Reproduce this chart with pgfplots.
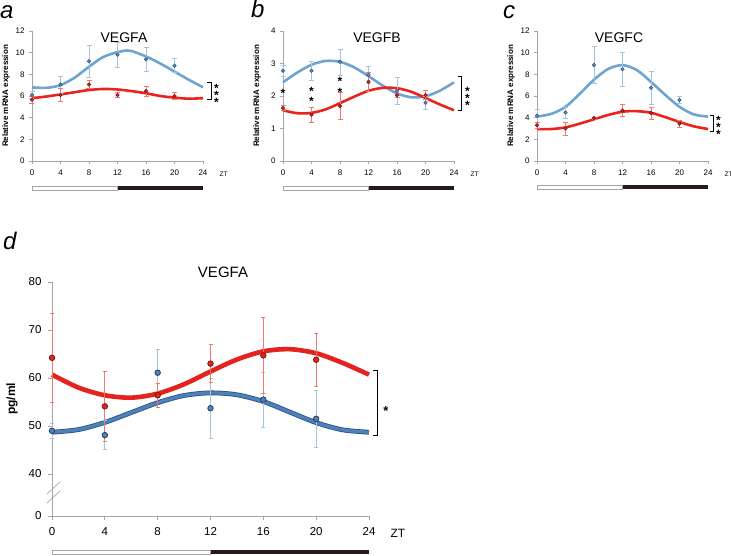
\documentclass[border=0pt]{standalone}
\usepackage{fontspec}
\setmainfont{Liberation Sans}
\usepackage{pgfplots}
\pgfplotsset{compat=1.18}

\definecolor{cblue}{RGB}{110,164,208}
\definecolor{cred}{RGB}{234,36,28}
\definecolor{eblue}{RGB}{165,196,224}
\definecolor{ered}{RGB}{238,122,110}
\definecolor{mblue}{RGB}{45,75,120}
\definecolor{mred}{RGB}{110,20,20}
\definecolor{dblue}{RGB}{78,128,186}
\definecolor{dedge}{RGB}{44,82,132}
\definecolor{dred}{RGB}{228,34,30}
\definecolor{night}{RGB}{38,26,26}
\definecolor{axgray}{RGB}{165,165,165}

\pgfplotsset{
  panel/.style={
    scale only axis, clip=false,
    xmin=0, xmax=24, xtick={0,4,...,24},
    axis lines=left, axis line style={-, axgray, line width=0.7pt},
    tick style={axgray, line width=0.7pt}, tick align=outside,
    /pgf/number format/assume math mode=true,
  },
  small/.style={panel,
    width=171pt, height=130pt, ymin=0,
    major tick length=3pt,
    ticklabel style={font=\fontsize{8}{9}\selectfont},
    yticklabel style={xshift=-1pt},
    xticklabel style={yshift=-2pt},
    ylabel={Relative mRNA expression},
    every axis y label/.style={at={(axis description cs:-0.152,0.5)}, rotate=90, anchor=center,
      font=\fontsize{8}{9}\selectfont\bfseries},
    xlabel={ZT},
    every axis x label/.style={at={(axis description cs:1,0)}, anchor=base west,
      xshift=13pt, yshift=-16pt, font=\fontsize{6.5}{7}\selectfont},
  },
  fitb/.style={cblue, line width=2.6pt, smooth},
  fitr/.style={cred, line width=2.6pt, smooth},
  ptb/.style={only marks, mark=*, mark size=1.7pt,
    mark options={fill=cblue, draw=mblue, line width=0.6pt},
    error bars/y dir=both, error bars/y explicit,
    error bars/error bar style={eblue, line width=0.7pt},
    error bars/error mark options={rotate=90, mark size=2.5pt, eblue, line width=0.7pt}},
  ptr/.style={only marks, mark=*, mark size=1.7pt,
    mark options={fill=cred, draw=mred, line width=0.6pt},
    error bars/y dir=both, error bars/y explicit,
    error bars/error bar style={ered, line width=0.7pt},
    error bars/error mark options={rotate=90, mark size=2.5pt, ered, line width=0.7pt}},
}

% stacked significance stars, one text per stack
\newcommand{\tight}{\lineskiplimit=-20pt\relax}
\tikzset{stars/.style={font=\fontsize{12}{6}\selectfont\bfseries,
  align=center, inner sep=0pt, anchor=center}}

\newcommand{\lightdark}[2]{%
  \draw[axgray, fill=white, line width=0.6pt] ([yshift=-#1]rel axis cs:0,0) rectangle ([yshift=-#2]rel axis cs:0.5,0);
  \fill[night] ([yshift=-#1]rel axis cs:0.5,0) rectangle ([yshift=-#2]rel axis cs:1,0);}

\begin{document}
\begin{tikzpicture}
\useasboundingbox (0,0) rectangle (731pt,556pt);

% ---------- a: VEGFA mRNA
\begin{axis}[small, at={(32pt,395pt)}, anchor=south west,
  ymax=12, ytick={0,2,...,12}]
\addplot[fitb] coordinates {(0,6.8) (2,6.75) (4,7.0) (6,7.7) (8,8.7) (10,9.6) (12,10.05) (13.3,10.2) (14,10.15) (16,9.65) (18,9.0) (20,8.25) (22,7.5) (24,6.8)};
\addplot[fitr] coordinates {(0,5.8) (2,5.95) (4,6.15) (6,6.35) (8,6.55) (10,6.65) (12,6.6) (14,6.45) (16,6.25) (18,6.0) (20,5.85) (22,5.75) (24,5.8)};
\addplot[ptb] coordinates {(0,6.1) +- (0,0.3) (4,7.05) +- (0,0.8) (8,9.2) +- (0,1.45) (12,9.8) +- (0,1.15) (16,9.4) +- (0,1.1) (20,8.8) +- (0,0.65)};
\addplot[ptr] coordinates {(0,5.65) +- (0,0.35) (4,6.1) +- (0,0.6) (8,7.05) +- (0,0.35) (12,6.1) +- (0,0.2) (16,6.45) +- (0,0.45) (20,6.0) +- (0,0.35)};
\draw[black, line width=0.6pt] ([xshift=4pt]axis cs:24,7.24) -- ([xshift=8pt]axis cs:24,7.24) -- ([xshift=8pt]axis cs:24,5.74) -- ([xshift=4pt]axis cs:24,5.74);
\node[stars] at ([xshift=13.5pt,yshift=-4pt]axis cs:24,6.41) {\tight *\\[-2.2pt]*\\[-2.2pt]*};
\lightdark{25.5pt}{29pt}
\end{axis}

% ---------- b: VEGFB mRNA
\begin{axis}[small, at={(283pt,395pt)}, anchor=south west,
  ymax=4, ytick={0,1,...,4}]
\addplot[fitb] coordinates {(0,2.42) (2,2.72) (4,2.96) (6,3.08) (8,3.05) (10,2.88) (12,2.61) (14,2.32) (16,2.08) (18,1.96) (20,1.99) (22,2.16) (24,2.42)};
\addplot[fitr] coordinates {(0,1.56) (2,1.47) (4,1.48) (6,1.59) (8,1.78) (10,1.98) (12,2.16) (14,2.25) (16,2.24) (18,2.13) (20,1.94) (22,1.74) (24,1.56)};
\addplot[ptb] coordinates {(0,2.78) +- (0,0.17) (4,2.78) +- (0,0.3) (8,3.05) +- (0,0.4) (12,2.65) +- (0,0.25) (16,2.15) +- (0,0.42) (20,1.79) +- (0,0.21)};
\addplot[ptr] coordinates {(0,1.63) +- (0,0.08) (4,1.42) +- (0,0.23) (8,1.69) +- (0,0.41) (12,2.44) +- (0,0.3) (16,2.02) +- (0,0.05) (20,2.03) +- (0,0.14)};
\node[stars] at ([yshift=-4pt]axis cs:0,2.19) {*};
\node[stars] at ([yshift=-4pt]axis cs:4,2.12) {\tight *\\[1pt]*};
\node[stars] at ([yshift=-4pt]axis cs:8,2.40) {\tight *\\[1pt]*};
\draw[black, line width=0.6pt] ([xshift=4pt]axis cs:24,2.6) -- ([xshift=7pt]axis cs:24,2.6) -- ([xshift=7pt]axis cs:24,1.55) -- ([xshift=4pt]axis cs:24,1.55);
\node[stars] at ([xshift=13.5pt,yshift=-4pt]axis cs:24,2.05) {\tight *\\[-2.2pt]*\\[-2.2pt]*};
\lightdark{25.5pt}{29pt}
\end{axis}

% ---------- c: VEGFC mRNA
\begin{axis}[small, at={(537pt,395pt)}, anchor=south west,
  ymax=12, ytick={0,2,...,12}]
\addplot[fitb] coordinates {(0,4.1) (2,4.35) (4,5.0) (6,6.2) (8,7.5) (10,8.5) (12,8.85) (14,8.4) (16,7.3) (18,6.1) (20,5.0) (22,4.3) (24,4.1)};
\addplot[fitr] coordinates {(0,2.95) (2,2.95) (4,3.1) (6,3.45) (8,3.85) (10,4.25) (12,4.55) (14,4.6) (16,4.45) (18,4.05) (20,3.6) (22,3.2) (24,2.95)};
\addplot[ptb] coordinates {(0,4.17) +- (0,0.6) (4,4.48) +- (0,0.5) (8,8.87) +- (0,1.7) (12,8.47) +- (0,1.6) (16,6.75) +- (0,1.5) (20,5.64) +- (0,0.3)};
\addplot[ptr] coordinates {(0,3.31) +- (0,0.3) (4,3.0) +- (0,0.6) (8,3.96) +- (0,0.1) (12,4.66) +- (0,0.55) (16,4.42) +- (0,0.55) (20,3.44) +- (0,0.3)};
\draw[black, line width=0.6pt] ([xshift=2pt]axis cs:24,4.26) -- ([xshift=5pt]axis cs:24,4.26) -- ([xshift=5pt]axis cs:24,2.73) -- ([xshift=2pt]axis cs:24,2.73);
\node[stars] at ([xshift=10.5pt,yshift=-4pt]axis cs:24,3.44) {\tight *\\[-2.2pt]*\\[-2.2pt]*};
\lightdark{24.5pt}{28pt}
\end{axis}

% ---------- d: VEGFA protein
\begin{axis}[panel, at={(52pt,40pt)}, anchor=south west,
  width=317pt, height=234pt, ymin=31.25, ymax=80,
  ytick={31.25,40,50,60,70,80}, yticklabels={0,40,50,60,70,80},
  major tick length=4pt,
  ticklabel style={font=\fontsize{11.5}{13}\selectfont},
  yticklabel style={xshift=-3pt}, xticklabel style={yshift=-4pt},
  ylabel={pg/ml},
  every axis y label/.style={at={(axis description cs:-0.126,0.5)}, rotate=90, anchor=center,
    font=\fontsize{12}{13}\selectfont\bfseries},
  xlabel={ZT},
  every axis x label/.style={at={(axis description cs:1,0)}, anchor=base west,
    xshift=18pt, yshift=-22pt, font=\fontsize{12}{14}\selectfont}]
\addplot[smooth, dedge, line width=4.8pt] coordinates {(0,48.7) (2,49.25) (4,50.75) (6,52.8) (8,54.85) (10,56.35) (12,56.9) (14,56.5) (16,55.1) (18,52.9) (20,50.7) (22,49.2) (24,48.7)};
\addplot[smooth, dblue, line width=3.2pt] coordinates {(0,48.7) (2,49.25) (4,50.75) (6,52.8) (8,54.85) (10,56.35) (12,56.9) (14,56.5) (16,55.1) (18,52.9) (20,50.7) (22,49.2) (24,48.7)};
\addplot[smooth, dred, line width=4.6pt] coordinates {(0,60.7) (2,58.0) (4,56.4) (6,55.9) (8,56.75) (10,58.7) (12,61.35) (14,63.85) (16,65.55) (18,66.0) (20,65.15) (22,63.15) (24,60.7)};
\addplot[ptb, mark size=2.8pt, mark options={fill=dblue, draw=dedge!70!black, line width=0.7pt},
  error bars/error mark options={rotate=90, mark size=2pt, eblue, line width=0.8pt}]
  coordinates {(0,49.0) +- (0,1.6) (4,48.1) +- (0,3.0) (8,61.1) +- (0,4.9) (12,53.7) +- (0,6.2) (16,55.5) +- (0,5.7) (20,51.5) +- (0,6.0)};
\addplot[ptr, mark size=2.8pt, mark options={fill=dred, draw=mred, line width=0.7pt},
  error bars/error mark options={rotate=90, mark size=2pt, ered, line width=0.8pt}]
  coordinates {(0,64.2) +- (0,9.3) (4,54.1) +- (0,7.3) (8,56.4) +- (0,2.5) (12,63.0) +- (0,4.0) (16,64.7) +- (0,7.9) (20,63.8) +- (0,5.5)};
% axis break
\draw[axgray, line width=0.7pt] ([xshift=-5pt,yshift=-6pt]axis cs:0,37.1) -- ([xshift=8pt,yshift=6pt]axis cs:0,37.1);
\draw[axgray, line width=0.7pt] ([xshift=-5pt,yshift=-6pt]axis cs:0,35.2) -- ([xshift=8pt,yshift=6pt]axis cs:0,35.2);
\draw[black, line width=0.7pt] ([xshift=4pt]axis cs:24,61.6) -- ([xshift=8pt]axis cs:24,61.6) -- ([xshift=8pt]axis cs:24,48.1) -- ([xshift=4pt]axis cs:24,48.1);
\node[stars, font=\fontsize{13}{13}\selectfont\bfseries] at ([xshift=17pt,yshift=-5pt]axis cs:24,54.2) {*};
\lightdark{34pt}{38pt}
\end{axis}

% panel letters and titles
\node[anchor=base west, font=\fontsize{24}{24}\selectfont\itshape, inner sep=0pt] at (0pt,537pt) {a};
\node[anchor=base west, font=\fontsize{24}{24}\selectfont\itshape, inner sep=0pt] at (251pt,538pt) {b};
\node[anchor=base west, font=\fontsize{24}{24}\selectfont\itshape, inner sep=0pt] at (503pt,537pt) {c};
\node[anchor=base west, font=\fontsize{24}{24}\selectfont\itshape, inner sep=0pt] at (3pt,306pt) {d};
\node[anchor=base, font=\fontsize{14}{14}\selectfont, inner sep=0pt] at (124pt,513pt) {VEGFA};
\node[anchor=base, font=\fontsize{14}{14}\selectfont, inner sep=0pt] at (377pt,513pt) {VEGFB};
\node[anchor=base, font=\fontsize{14}{14}\selectfont, inner sep=0pt] at (619pt,513pt) {VEGFC};
\node[anchor=base, font=\fontsize{15}{15}\selectfont, inner sep=0pt] at (223pt,278pt) {VEGFA};
\end{tikzpicture}
\end{document}
